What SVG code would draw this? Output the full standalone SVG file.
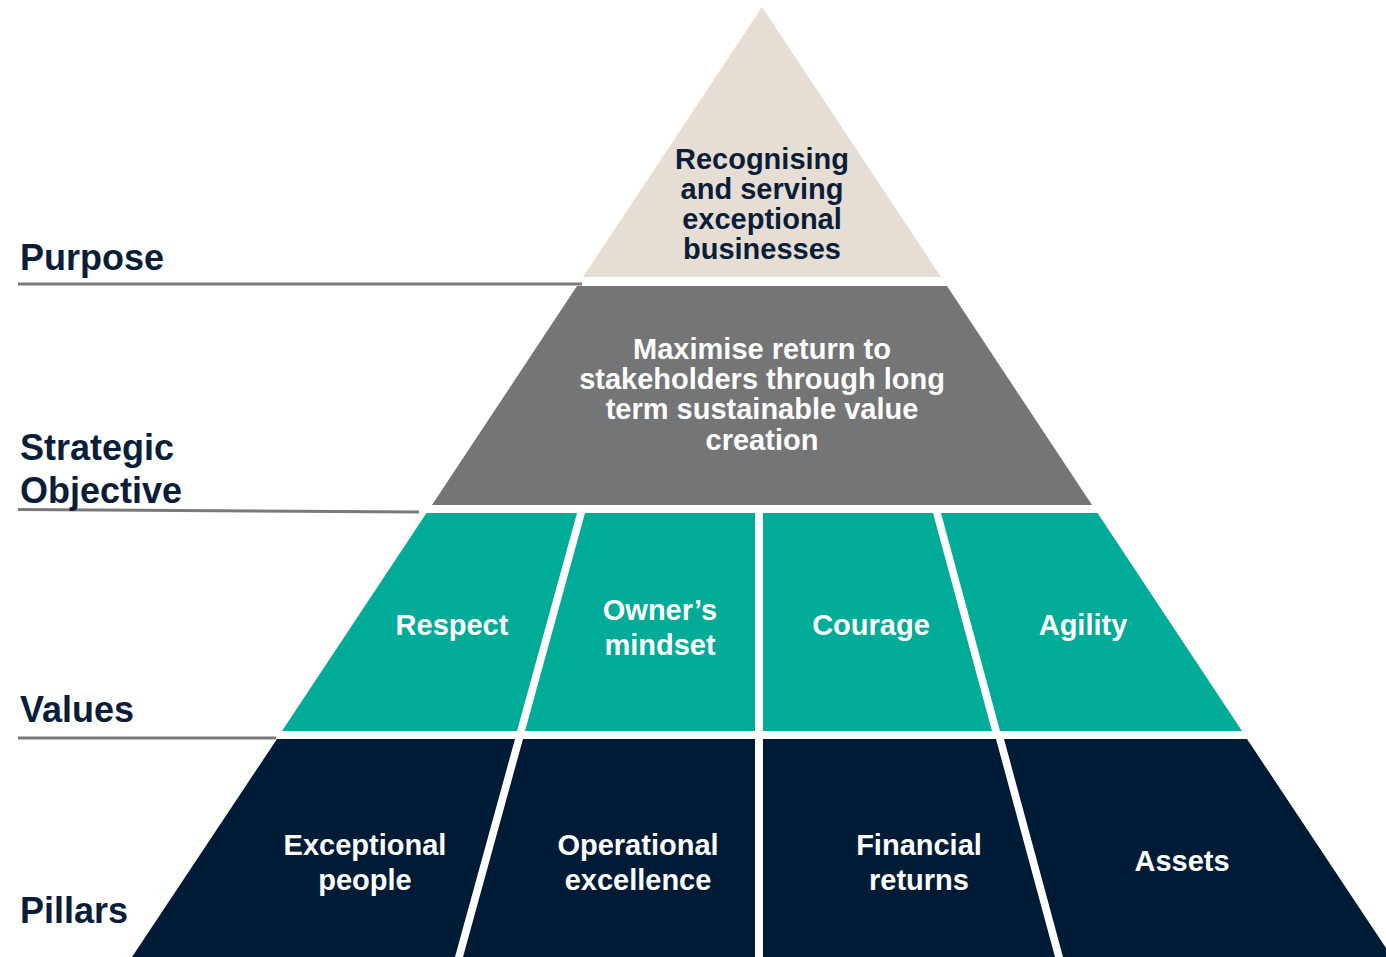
<svg xmlns="http://www.w3.org/2000/svg" width="1386" height="957" viewBox="0 0 1386 957">
<style>
.lbl{font-family:"Liberation Sans",Arial,sans-serif;font-weight:bold;font-size:36px;fill:#0B1E38}
.t{font-family:"Liberation Sans",Arial,sans-serif;font-weight:bold;font-size:29px;text-anchor:middle}
.dk{fill:#0B1E38}
.wh{fill:#FFFFFF}
.beige{fill:#E6DDD4}
.gray{fill:#747577}
.teal{fill:#00AC98}
.navy{fill:#001B35}
.rule{stroke:#7A7A7A;stroke-width:3;fill:none}
</style>
<rect width="1386" height="957" fill="#FFFFFF"/>
<g id="connectors">
<line class="rule" x1="18" y1="284" x2="582" y2="284"/>
<line class="rule" x1="18" y1="509.5" x2="419" y2="512"/>
<line class="rule" x1="18" y1="738" x2="276" y2="738"/>
</g>
<g id="label-purpose"><text class="lbl" x="20" y="270">Purpose</text></g>
<g id="label-strategic"><text class="lbl" x="20" y="460">Strategic</text><text class="lbl" x="20" y="503">Objective</text></g>
<g id="label-values"><text class="lbl" x="20" y="722">Values</text></g>
<g id="label-pillars"><text class="lbl" x="20" y="923">Pillars</text></g>

<g id="purpose">
<polygon class="beige" points="762,7 941,277 583,277"/>
<text class="t dk"><tspan x="762" y="169">Recognising</tspan><tspan x="762" y="199">and serving</tspan><tspan x="762" y="229">exceptional</tspan><tspan x="762" y="259">businesses</tspan></text>
</g>
<g id="objective">
<polygon class="gray" points="577,286 947,286 1092,505 432,505"/>
<text class="t wh"><tspan x="762" y="359">Maximise return to</tspan><tspan x="762" y="389">stakeholders through long</tspan><tspan x="762" y="419">term sustainable value</tspan><tspan x="762" y="450">creation</tspan></text>
</g>
<g id="value-respect">
<polygon class="teal" points="426.5,513 577,513 517,731 282,731"/>
<text class="t wh" x="452" y="635">Respect</text>
</g>
<g id="value-owners-mindset">
<polygon class="teal" points="585,513 755,513 755,731 525,731"/>
<text class="t wh"><tspan x="660" y="620">Owner’s</tspan><tspan x="660" y="655">mindset</tspan></text>
</g>
<g id="value-courage">
<polygon class="teal" points="763,513 933,513 992,731 763,731"/>
<text class="t wh" x="871" y="635">Courage</text>
</g>
<g id="value-agility">
<polygon class="teal" points="941,513 1097.5,513 1242,731 1000,731"/>
<text class="t wh" x="1083" y="635">Agility</text>
</g>
<g id="pillar-exceptional-people">
<polygon class="navy" points="277,739 515,739 455,957 132,957"/>
<text class="t wh"><tspan x="365" y="855">Exceptional</tspan><tspan x="365" y="890">people</tspan></text>
</g>
<g id="pillar-operational-excellence">
<polygon class="navy" points="523,739 755,739 755,957 463,957"/>
<text class="t wh"><tspan x="638" y="855">Operational</tspan><tspan x="638" y="890">excellence</tspan></text>
</g>
<g id="pillar-financial-returns">
<polygon class="navy" points="763,739 996,739 1055,957 763,957"/>
<text class="t wh"><tspan x="919" y="855">Financial</tspan><tspan x="919" y="890">returns</tspan></text>
</g>
<g id="pillar-assets">
<polygon class="navy" points="1004,739 1247,739 1392,957 1063,957"/>
<text class="t wh" x="1182" y="871">Assets</text>
</g>
</svg>
